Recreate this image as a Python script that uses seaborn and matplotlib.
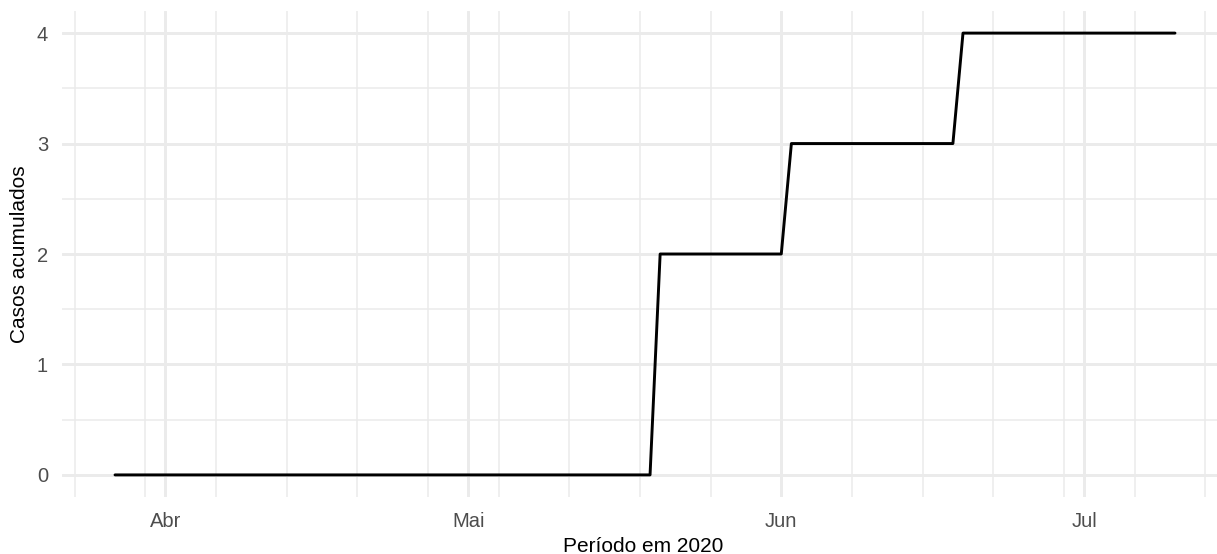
import pandas as pd
import matplotlib
matplotlib.use("Agg")
import matplotlib.pyplot as plt
import matplotlib.dates as mdates
from matplotlib.ticker import MultipleLocator
import seaborn as sns

# data (points where the cumulative count changes)
dates = ["2020-03-27", "2020-05-19", "2020-05-20", "2020-06-01",
         "2020-06-02", "2020-06-18", "2020-06-19", "2020-07-10"]
casos = [0, 0, 2, 2, 3, 3, 4, 4]

month_ticks = ["2020-04-01", "2020-05-01", "2020-06-01", "2020-07-01"]
month_labels = ["Abr", "Mai", "Jun", "Jul"]

df = pd.DataFrame({"data": pd.to_datetime(dates), "casos": casos})

sns.set_style("white")
plt.rcParams["font.family"] = ["Liberation Sans", "DejaVu Sans"]

W, H = 1217, 554
fig = plt.figure(figsize=(W / 100, H / 100), dpi=100)
# panel runs a little past the right edge, like the reference
ax = fig.add_axes([62 / W, (H - 497) / H, (1228 - 62) / W, (497 - 11) / H])

grid_col = "#EBEBEB"
sns.lineplot(data=df, x="data", y="casos", color="black", linewidth=2.1, ax=ax, zorder=3)

# ggplot-style 5% expansion around the data
ax.set_xlim(pd.Timestamp("2020-03-21 18:00"), pd.Timestamp("2020-07-15 06:00"))
ax.set_ylim(-0.2, 4.2)

ax.set_xticks(pd.to_datetime(month_ticks))
ax.set_xticklabels(month_labels)
ax.xaxis.set_minor_locator(mdates.WeekdayLocator(byweekday=mdates.MO))
ax.yaxis.set_major_locator(MultipleLocator(1))
ax.yaxis.set_minor_locator(MultipleLocator(0.5))

ax.grid(which="major", color=grid_col, linewidth=2.1)
ax.grid(which="minor", color=grid_col, linewidth=1.1)
ax.set_axisbelow(True)
for s in ax.spines.values():
    s.set_visible(False)

ax.tick_params(which="both", length=0)
ax.tick_params(axis="x", labelsize=14.5, labelcolor="#4D4D4D", pad=11)
ax.tick_params(axis="y", labelsize=14.5, labelcolor="#4D4D4D", pad=10)

ax.set_xlabel("Período em 2020", fontsize=15, color="black")
ax.xaxis.label.set_va("baseline")
ax.xaxis.set_label_coords((643.5 - 62) / 1166, (497 - 552) / 486)

ax.set_ylabel("Casos acumulados", fontsize=15, color="black")
ax.yaxis.label.set_va("baseline")
ax.yaxis.set_label_coords((25 - 62) / 1166, 0.5)

fig.savefig("out.png", dpi=100, facecolor="white")
